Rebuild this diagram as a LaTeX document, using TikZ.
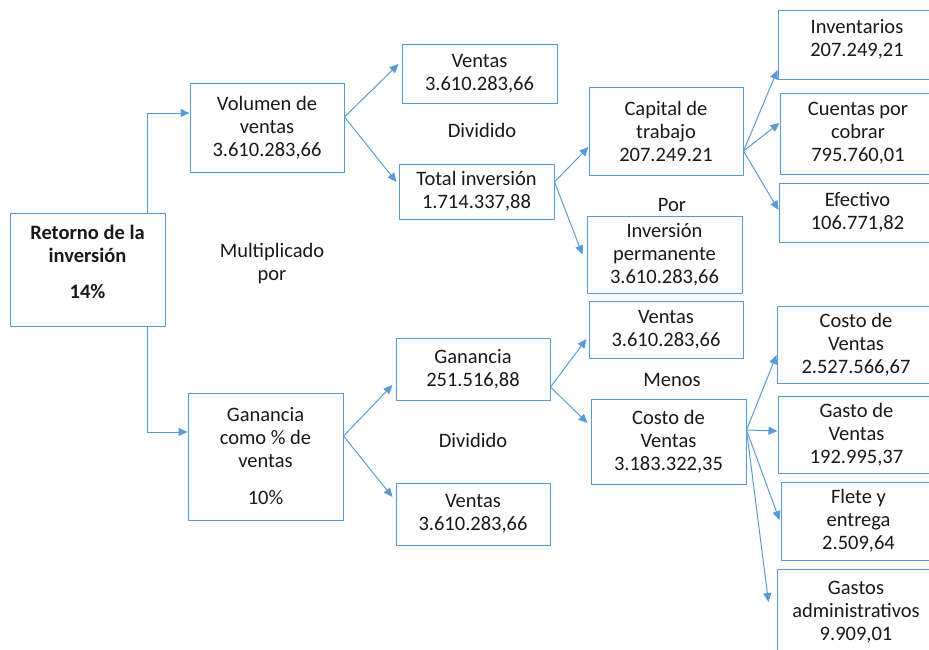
\documentclass[tikz,border=0pt]{standalone}
\usepackage{fontspec}
\setmainfont{Carlito}
\usetikzlibrary{arrows.meta}
\definecolor{lineblue}{RGB}{91,155,213}
\begin{document}
\begin{tikzpicture}
[x=1pt, y=-1pt, font=\fontsize{20.5}{23}\selectfont, text=black!90]
\tikzstyle{box}=[draw=lineblue, line width=1pt, rectangle, align=center, inner sep=0pt]
\tikzstyle{link}=[draw=lineblue, line width=1pt, -{Triangle[length=9pt, width=8pt]}]
\useasboundingbox (0,0) rectangle (929,649);

% main box and first split
\node[box, minimum width=155pt, minimum height=113pt] (ret)   at (87.5,269.5) {\textbf{Retorno de la}\\\textbf{inversión}\\[13pt]\textbf{14\%}\\[-14pt]\strut};
\node[box, minimum width=154pt, minimum height=89pt]  (vol)   at (267,127.5)  {Volumen de\\ventas\\3.610.283,66};
\node[box, minimum width=155pt, minimum height=127pt] (gcv)   at (265.5,456.5) {Ganancia\\como \% de\\ventas\\[14pt]10\%};
\node[align=center] (mult) at (272,264) {Multiplicado\\por};

% rotacion
\node[box, minimum width=155pt, minimum height=59pt]  (vtop)  at (479.5,73.5) {Ventas\\3.610.283,66};
\node[box, minimum width=155pt, minimum height=55pt]  (tinv)  at (476.5,191.5) {Total inversión\\1.714.337,88};
\node (div1) at (482,130) {Dividido};
\node[box, minimum width=154pt, minimum height=88pt]  (cap)   at (666,131)    {Capital de\\trabajo\\207.249.21};
\node[box, minimum width=155pt, minimum height=77pt]  (iperm) at (664.5,254.5) {Inversión\\permanente\\3.610.283,66};
\node (por) at (672,205) {Por};
\node[box, minimum width=158pt, minimum height=69pt]  (inven) at (857,44.5)   {Inventarios\\207.249,21\\[-16pt]\strut};
\node[box, minimum width=156pt, minimum height=81pt]  (cxc)   at (858,133.5)  {Cuentas por\\cobrar\\795.760,01};
\node[box, minimum width=157pt, minimum height=59pt]  (efec)  at (857.5,212.5) {Efectivo\\106.771,82};

% margen
\node[box, minimum width=154pt, minimum height=62pt]  (gan)   at (473,369)    {Ganancia\\251.516,88};
\node[box, minimum width=154pt, minimum height=62pt]  (vbot)  at (473,514)    {Ventas\\3.610.283,66};
\node (div2) at (473,440) {Dividido};
\node[box, minimum width=154pt, minimum height=57pt]  (vmid)  at (666,329.5)  {Ventas\\3.610.283,66};
\node[box, minimum width=155pt, minimum height=85pt]  (cdv)   at (668.5,441.5) {Costo de\\Ventas\\3.183.322,35};
\node (menos) at (672,380) {Menos};
\node[box, minimum width=158pt, minimum height=77pt]  (cdv2)  at (856,344.5)  {Costo de\\Ventas\\2.527.566,67};
\node[box, minimum width=157pt, minimum height=77pt]  (gdv)   at (856.5,434.5) {Gasto de\\Ventas\\192.995,37};
\node[box, minimum width=155pt, minimum height=78pt]  (flete) at (858.5,521)  {Flete y\\entrega\\2.509,64};
\node[box, minimum width=158pt, minimum height=86pt]  (gadm)  at (856,612)    {Gastos\\administrativos\\9.909,01};

\draw[link] ([xshift=60pt]ret.north) |- ([yshift=14.5pt]vol.west);
\draw[link] ([xshift=60pt]ret.south) |- ([yshift=24.5pt]gcv.west);

\draw[link] ([yshift=10.5pt]vol.east) -- ([yshift=9.5pt, xshift=-3pt]vtop.west);
\draw[link] ([yshift=10.5pt]vol.east) -- ([yshift=9.5pt, xshift=-2pt]tinv.west);
\draw[link] ([yshift=9.5pt]tinv.east) -- ([yshift=-16pt]cap.west);
\draw[link] ([yshift=9.5pt]tinv.east) -- ([xshift=-4pt]iperm.west);
\draw[link] ([yshift=-20pt]cap.east) -- ([yshift=-25.5pt]inven.west);
\draw[link] ([yshift=-20pt]cap.east) -- ([yshift=10.5pt]cxc.west);
\draw[link] ([yshift=-20pt]cap.east) -- ([yshift=2.5pt]efec.west);

\draw[link] ([yshift=20.5pt]gcv.east) -- ([yshift=-16pt, xshift=-3pt]gan.west);
\draw[link] ([yshift=20.5pt]gcv.east) -- ([yshift=17pt, xshift=-3pt]vbot.west);
\draw[link] ([yshift=-18pt]gan.east) -- ([yshift=-9.5pt, xshift=-2pt]vmid.west);
\draw[link] ([yshift=-18pt]gan.east) -- ([yshift=18.5pt, xshift=-3pt]cdv.west);
\draw[link] ([yshift=11.5pt]cdv.east) -- ([yshift=-10.5pt]cdv2.west);
\draw[link] ([yshift=11.5pt]cdv.east) -- ([yshift=3.5pt]gdv.west);
\draw[link] ([yshift=11.5pt]cdv.east) -- ([yshift=1pt, xshift=-1pt]flete.west);
\draw[link] ([yshift=11.5pt]cdv.east) -- ([yshift=10pt, xshift=-8pt]gadm.west);
\end{tikzpicture}
\end{document}
